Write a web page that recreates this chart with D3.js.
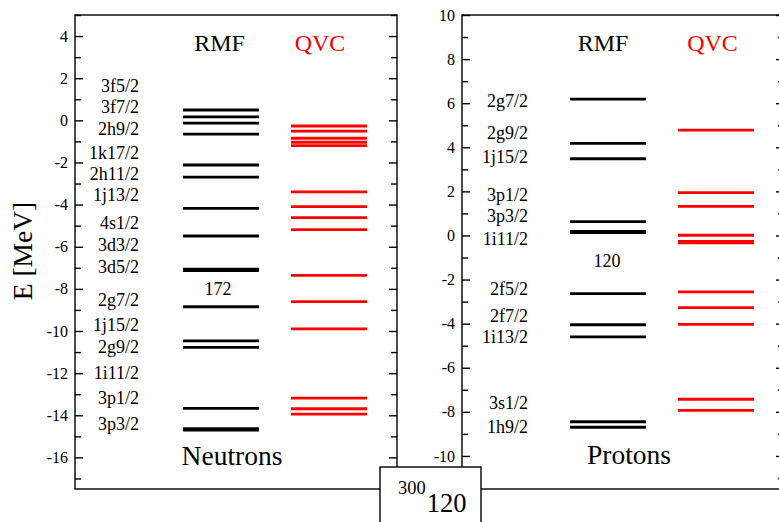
<!DOCTYPE html>
<html>
<head>
<meta charset="utf-8">
<script src="https://cdn.jsdelivr.net/npm/d3@7"></script>
<style>
  html, body { margin: 0; padding: 0; background: #fff; }
  svg text { font-family: "Liberation Serif", "DejaVu Serif", "Times New Roman", Times, serif; }
</style>
</head>
<body>
<svg id="chart" width="779" height="522"></svg>
<script>
// Single-particle levels of 300-120 (MeV): RMF vs QVC
const methods = ["RMF", "QVC"];
const serif = "Liberation Serif, DejaVu Serif, Times New Roman, serif";

// Neutrons
const neutronRMF = [0.49, 0.16, -0.13, -0.65, -2.12, -2.70, -4.18, -5.49, -7.07, -7.13,
                    -8.85, -10.47, -10.78, -13.67, -14.64, -14.70];
const neutronQVC = [-0.27, -0.51, -0.85, -1.04, -1.20, -3.40, -4.10, -4.62, -5.19,
                    -7.36, -8.61, -9.90, -13.19, -13.69, -13.95];
const neutronLabels = ["3f5/2", "3f7/2", "2h9/2", "1k17/2", "2h11/2", "1j13/2", "4s1/2",
                       "3d3/2", "3d5/2", "2g7/2", "1j15/2", "2g9/2", "1i11/2", "3p1/2", "3p3/2"];
const neutronLabelE = [1.36, 0.33, -0.70, -1.85, -2.81, -3.81, -5.17,
                       -6.19, -7.23, -8.81, -10.00, -11.06, -12.29, -13.48, -14.70];
const neutronTicks = [4, 2, 0, -2, -4, -6, -8, -10, -12, -14, -16];
const neutronMinor = [5, 3, 1, -1, -3, -5, -7, -9, -11, -13, -15, -17];
const neutronMagic = "172";
const neutronMagicE = -8.29;

// Protons
const protonRMF = [6.18, 4.18, 3.48, 0.63, 0.18, 0.13, -2.64, -4.05, -4.60, -8.45, -8.70];
const protonQVC = [4.78, 1.94, 1.32, 0.01, -0.27, -0.33, -2.56, -3.27, -4.03, -7.43, -7.93];
const protonLabels = ["2g7/2", "2g9/2", "1j15/2", "3p1/2", "3p3/2", "1i11/2",
                      "2f5/2", "2f7/2", "1i13/2", "3s1/2", "1h9/2"];
const protonLabelE = [5.81, 4.38, 3.27, 1.58, 0.60, -0.43, -2.70, -3.91, -4.87, -7.88, -8.95];
const protonTicks = [10, 8, 6, 4, 2, 0, -2, -4, -6, -8, -10];
const protonMinor = [9, 7, 5, 3, 1, -1, -3, -5, -7, -9, -11];
const protonMagic = "120";
const protonMagicE = -1.44;

const colors = { RMF: "#000000", QVC: "#ff0000" };

const svg = d3.select("#chart").attr("font-family", serif);
const frameTop = 15, frameBottom = 489, panelW = 322;

const panels = [
  { x0: 75, domain: [-17.5, 5], rmf: neutronRMF, qvc: neutronQVC,
    labels: neutronLabels, labelE: neutronLabelE, ticks: neutronTicks, minor: neutronMinor,
    magic: neutronMagic, magicE: neutronMagicE, magicX: 143,
    title: "Neutrons", titleX: 157, titleY: 465, headX: { RMF: 144.5, QVC: 245 }, labelX: 64 },
  { x0: 462, domain: [-11.5, 10], rmf: protonRMF, qvc: protonQVC,
    labels: protonLabels, labelE: protonLabelE, ticks: protonTicks, minor: protonMinor,
    magic: protonMagic, magicE: protonMagicE, magicX: 145,
    title: "Protons", titleX: 167, titleY: 463.5, headX: { RMF: 141, QVC: 250.5 }, labelX: 66 }
];

panels.forEach(p => {
  const g = svg.append("g").attr("transform", `translate(${p.x0},0)`);
  const y = d3.scaleLinear().domain(p.domain).range([frameBottom, frameTop]);
  const x = d3.scaleBand().domain(methods).range([108, 292]).paddingInner(32 / 108).paddingOuter(0);

  // frame
  g.append("rect").attr("x", 0).attr("y", frameTop).attr("width", panelW).attr("height", frameBottom - frameTop)
    .attr("fill", "none").attr("stroke", "#000").attr("stroke-width", 1.4);

  // inward ticks, left (labelled) and right
  const fmt = d => String(d);
  const minorVals = p.minor.filter(v => v > p.domain[0]);
  const left = g.append("g").call(d3.axisLeft(y).tickValues(p.ticks).tickSize(-8).tickPadding(7).tickFormat(fmt));
  const leftMinor = g.append("g").call(d3.axisLeft(y).tickValues(minorVals).tickSize(-6).tickFormat(""));
  const right = g.append("g").attr("transform", `translate(${panelW},0)`)
    .call(d3.axisRight(y).tickValues(p.ticks).tickSize(-8).tickFormat(""));
  const rightMinor = g.append("g").attr("transform", `translate(${panelW},0)`)
    .call(d3.axisRight(y).tickValues(minorVals).tickSize(-6).tickFormat(""));
  [left, leftMinor, right, rightMinor].forEach(a => {
    a.attr("font-family", serif);
    a.select(".domain").remove();
    a.selectAll("line").attr("stroke", "#000").attr("stroke-width", 1.4);
  });
  left.selectAll("text").attr("font-size", 16).attr("fill", "#000");

  // level lines
  const series = [["RMF", p.rmf], ["QVC", p.qvc]];
  series.forEach(([m, vals]) => {
    g.append("g").selectAll("line").data(vals).join("line")
      .attr("x1", x(m)).attr("x2", x(m) + x.bandwidth())
      .attr("y1", d => y(d)).attr("y2", d => y(d))
      .attr("stroke", colors[m]).attr("stroke-width", 2.8);
    g.append("text").attr("x", p.headX[m]).attr("y", 50.5)
      .attr("text-anchor", "middle").attr("font-size", 24).attr("fill", colors[m]).text(m);
  });

  // orbital labels
  g.append("g").selectAll("text").data(p.labels).join("text")
    .attr("x", p.labelX).attr("y", (d, i) => y(p.labelE[i]))
    .attr("text-anchor", "end").attr("font-size", 18).attr("fill", "#000").text(d => d);

  // shell gap number
  g.append("text").attr("x", p.magicX).attr("y", y(p.magicE))
    .attr("text-anchor", "middle").attr("font-size", 18).text(p.magic);

  // panel title
  g.append("text").attr("x", p.titleX).attr("y", p.titleY)
    .attr("text-anchor", "middle").attr("font-size", 27.5).text(p.title);
});

// y-axis title
svg.append("text").attr("transform", "translate(32,251) rotate(-90)")
  .attr("text-anchor", "middle").attr("font-size", 27.5).text("E [MeV]");

// nucleus tag box
const tag = svg.append("g");
tag.append("rect").attr("x", 380).attr("y", 467).attr("width", 101).attr("height", 70)
  .attr("fill", "#fff").attr("stroke", "#000").attr("stroke-width", 1.4);
const tagText = tag.append("text").attr("x", 398).attr("y", 511.5);
tagText.append("tspan").attr("font-size", 18.5).attr("dy", -17.5).text("300");
tagText.append("tspan").attr("font-size", 26.5).attr("dy", 17.5).attr("dx", 1).text("120");
</script>
</body>
</html>
